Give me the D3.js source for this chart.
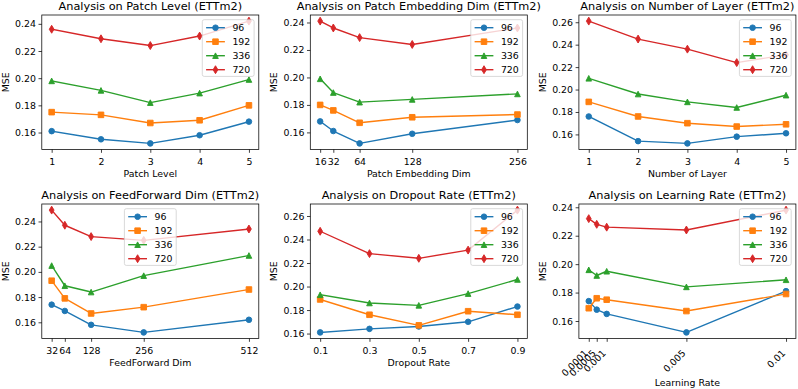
<!DOCTYPE html>
<html>
<head>
<meta charset="utf-8">
<script src="https://cdn.jsdelivr.net/npm/d3@7"></script>
<style>
  body { margin: 0; background: #fff; }
  svg { display: block; font-family: "DejaVu Sans", sans-serif; }
</style>
</head>
<body>
<div id="chart"></div>
<script>
var horizons = ["96", "192", "336", "720"];

var patchLevels = [1, 2, 3, 4, 5];
var patchLevelMSE = [
  [0.161, 0.155, 0.152, 0.158, 0.168],
  [0.175, 0.173, 0.167, 0.169, 0.180],
  [0.198, 0.191, 0.182, 0.189, 0.199],
  [0.236, 0.229, 0.224, 0.231, 0.242]
];

var embedDims = [16, 32, 64, 128, 256];
var embedDimMSE = [
  [0.168, 0.161, 0.152, 0.159, 0.169],
  [0.180, 0.176, 0.167, 0.171, 0.173],
  [0.199, 0.189, 0.182, 0.184, 0.188],
  [0.241, 0.236, 0.229, 0.224, 0.236]
];

var layerCounts = [1, 2, 3, 4, 5];
var layerMSE = [
  [0.176, 0.154, 0.152, 0.158, 0.161],
  [0.189, 0.176, 0.170, 0.167, 0.169],
  [0.210, 0.196, 0.189, 0.184, 0.195],
  [0.261, 0.245, 0.236, 0.224, 0.231]
];

var ffDims = [32, 64, 128, 256, 512];
var ffDimMSE = [
  [0.174, 0.169, 0.158, 0.152, 0.162],
  [0.193, 0.179, 0.167, 0.172, 0.186],
  [0.205, 0.189, 0.184, 0.197, 0.213],
  [0.249, 0.237, 0.228, 0.225, 0.234]
];

var dropoutRates = [0.1, 0.3, 0.5, 0.7, 0.9];
var dropoutMSE = [
  [0.161, 0.164, 0.166, 0.170, 0.183],
  [0.189, 0.176, 0.167, 0.179, 0.176],
  [0.193, 0.186, 0.184, 0.194, 0.206],
  [0.247, 0.228, 0.224, 0.231, 0.265]
];

var learningRates = [0.0001, 0.0005, 0.001, 0.005, 0.01];
var learningRateMSE = [
  [0.174, 0.168, 0.165, 0.152, 0.181],
  [0.169, 0.176, 0.175, 0.167, 0.179],
  [0.196, 0.192, 0.195, 0.184, 0.189],
  [0.232, 0.228, 0.226, 0.224, 0.238]
];

var yTicksLow = [0.16, 0.18, 0.20, 0.22, 0.24];
var yTicksHigh = [0.16, 0.18, 0.20, 0.22, 0.24, 0.26];
var lrTickLabels = ["0.0001", "0.0005", "0.001", "0.005", "0.01"];

var width = 798, height = 389;
var colors = ["#1f77b4", "#ff7f0e", "#2ca02c", "#d62728"];
var markers = ["circle", "square", "triangle", "thin_diamond"];
var colLeft = [41.8, 310.3, 578.9];
var rowTop = [15, 204];
var axW = 217, axH = 134.5;
var fs = 9.4, titleFs = 11.3, ms = 5.6;

var panels = [
  {col: 0, row: 0, title: "Analysis on Patch Level (ETTm2)", xlabel: "Patch Level", xs: patchLevels, ys: patchLevelMSE, yTicks: yTicksLow, legend: "right"},
  {col: 1, row: 0, title: "Analysis on Patch Embedding Dim (ETTm2)", xlabel: "Patch Embedding Dim", xs: embedDims, ys: embedDimMSE, yTicks: yTicksLow, legend: "right"},
  {col: 2, row: 0, title: "Analysis on Number of Layer (ETTm2)", xlabel: "Number of Layer", xs: layerCounts, ys: layerMSE, yTicks: yTicksHigh, legend: "right"},
  {col: 0, row: 1, title: "Analysis on FeedForward Dim (ETTm2)", xlabel: "FeedForward Dim", xs: ffDims, ys: ffDimMSE, yTicks: yTicksLow, legend: "center"},
  {col: 1, row: 1, title: "Analysis on Dropout Rate (ETTm2)", xlabel: "Dropout Rate", xs: dropoutRates, ys: dropoutMSE, yTicks: yTicksHigh, legend: "right"},
  {col: 2, row: 1, title: "Analysis on Learning Rate (ETTm2)", xlabel: "Learning Rate", xs: learningRates, ys: learningRateMSE, yTicks: yTicksLow, legend: "right", xTickLabels: lrTickLabels}
];

function markerPath(kind, s) {
  var h = s / 2;
  if (kind == "circle") {
    return "M" + h + ",0A" + h + "," + h + " 0 1,1 " + (-h) + ",0A" + h + "," + h + " 0 1,1 " + h + ",0Z";
  }
  if (kind == "square") {
    return "M" + (-h) + "," + (-h) + "H" + h + "V" + h + "H" + (-h) + "Z";
  }
  if (kind == "triangle") {
    return "M0," + (-h) + "L" + (-h) + "," + h + "L" + h + "," + h + "Z";
  }
  var dy = s * 0.7071, dx = 0.6 * dy;
  return "M0," + (-dy) + "L" + dx + ",0L0," + dy + "L" + (-dx) + ",0Z";
}

// autoscale with 5% margins like matplotlib
function padded(ext) {
  var m = (ext[1] - ext[0]) * 0.05;
  return [ext[0] - m, ext[1] + m];
}

var svg = d3.select("#chart").append("svg").attr("width", width).attr("height", height);
svg.append("rect").attr("width", width).attr("height", height).attr("fill", "#fff");

panels.forEach(function(p, pi) {
  var L = colLeft[p.col], T = rowTop[p.row];
  var x = d3.scaleLinear().domain(padded(d3.extent(p.xs))).range([L, L + axW]);
  var y = d3.scaleLinear().domain(padded(d3.extent(d3.merge(p.ys)))).range([T + axH, T]);
  var g = svg.append("g");

  var clipId = "clip" + pi;
  svg.append("defs").append("clipPath").attr("id", clipId)
    .append("rect").attr("x", L).attr("y", T).attr("width", axW).attr("height", axH);

  var plot = g.append("g").attr("clip-path", "url(#" + clipId + ")");
  var line = d3.line().x(function(d, i) { return x(p.xs[i]); }).y(function(d) { return y(d); });

  p.ys.forEach(function(vals, si) {
    plot.append("path").attr("d", line(vals))
      .attr("fill", "none").attr("stroke", colors[si]).attr("stroke-width", 1.4)
      .attr("stroke-linejoin", "round").attr("stroke-linecap", "square");
    plot.selectAll(null).data(vals).enter().append("path")
      .attr("d", markerPath(markers[si], ms))
      .attr("transform", function(d, i) { return "translate(" + x(p.xs[i]) + "," + y(d) + ")"; })
      .attr("fill", colors[si]).attr("stroke", colors[si]).attr("stroke-width", 0.94)
      .attr("stroke-linejoin", "miter");
  });

  // axes
  var xAxis = d3.axisBottom(x).tickValues(p.xs).tickSize(3.3).tickSizeOuter(0).tickPadding(5.5)
    .tickFormat(function(d, i) { return p.xTickLabels ? p.xTickLabels[i] : String(d); });
  var gx = g.append("g").attr("transform", "translate(0," + (T + axH) + ")").call(xAxis);
  var yAxis = d3.axisLeft(y).tickValues(p.yTicks).tickSize(3.3).tickSizeOuter(0).tickPadding(2.6)
    .tickFormat(d3.format(".2f"));
  var gy = g.append("g").attr("transform", "translate(" + L + ",0)").call(yAxis);
  [gx, gy].forEach(function(a) {
    a.select(".domain").remove();
    a.selectAll("line").attr("stroke", "#000").attr("stroke-width", 0.75);
    a.selectAll("text").attr("fill", "#000").style("font-size", fs + "px").style("font-family", "DejaVu Sans");
  });
  if (p.xTickLabels) {
    gx.selectAll("text").attr("y", null).attr("dy", "0.35em")
      .attr("text-anchor", "end")
      .attr("transform", "translate(-3,13) rotate(-45)");
  }

  g.append("rect").attr("x", L).attr("y", T).attr("width", axW).attr("height", axH)
    .attr("fill", "none").attr("stroke", "#000").attr("stroke-width", 0.75);

  g.append("text").attr("x", L + axW / 2).attr("y", T - 5.5)
    .attr("text-anchor", "middle").style("font-size", titleFs + "px").attr("fill", "#000")
    .text(p.title);
  g.append("text").attr("x", L + axW / 2).attr("y", T + axH + (p.xTickLabels ? 47 : 27.2))
    .attr("text-anchor", "middle").style("font-size", fs + "px").attr("fill", "#000")
    .text(p.xlabel);
  g.append("text").attr("transform", "translate(" + (L - 33) + "," + (T + axH / 2) + ") rotate(-90)")
    .attr("text-anchor", "middle").style("font-size", fs + "px").attr("fill", "#000")
    .text("MSE");

  // legend
  var lg = g.append("g");
  var box = lg.append("rect");
  var rowH = 14, textX = 3.8 + 18.8 + 7.5;
  var maxW = 0;
  horizons.forEach(function(h, si) {
    var cy = 8 + si * rowH;
    lg.append("line").attr("x1", 3.8).attr("x2", 22.6).attr("y1", cy).attr("y2", cy)
      .attr("stroke", colors[si]).attr("stroke-width", 1.4);
    lg.append("path").attr("d", markerPath(markers[si], ms))
      .attr("transform", "translate(13.2," + cy + ")")
      .attr("fill", colors[si]).attr("stroke", colors[si]).attr("stroke-width", 0.94);
    var t = lg.append("text").attr("x", textX).attr("y", cy).attr("dy", "0.35em")
      .style("font-size", fs + "px").attr("fill", "#000").text(h);
    maxW = Math.max(maxW, t.node().getComputedTextLength());
  });
  var lw = textX + maxW + 3.8, lh = 8 + 3 * rowH + 6.7;
  box.attr("width", lw).attr("height", lh).attr("rx", 1.9)
    .attr("fill", "#fff").attr("fill-opacity", 0.8)
    .attr("stroke", "#cccccc").attr("stroke-width", 0.75);
  var lx = p.legend == "center" ? L + axW / 2 - lw / 2 : L + axW - 4.7 - lw;
  lg.attr("transform", "translate(" + lx + "," + (T + 4.7) + ")");
});
</script>
</body>
</html>
